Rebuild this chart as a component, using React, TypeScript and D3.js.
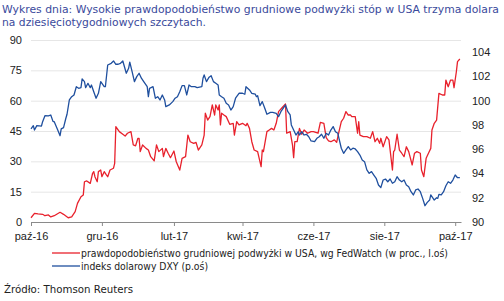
import React, { useEffect, useRef } from 'react';
import * as d3 from 'd3';

const W = 504;
const H = 301;

// prawdopodobieństwo grudniowej podwyżki (FedWatch, %), lewa oś
const fedWatch: [string, number][] = [
  ['2016-10-01', 2.1], ['2016-10-04', 4.3], ['2016-10-07', 4.0], ['2016-10-11', 3.8], ['2016-10-13', 3.1],
  ['2016-10-16', 3.5], ['2016-10-18', 2.5], ['2016-10-21', 3.1], ['2016-10-26', 4.8], ['2016-10-29', 3.8],
  ['2016-11-02', 2.1], ['2016-11-05', 2.5], ['2016-11-08', 5.1], ['2016-11-10', 9.2], ['2016-11-13', 12.5],
  ['2016-11-15', 13.4], ['2016-11-16', 19.9], ['2016-11-18', 20.3], ['2016-11-21', 19.1], ['2016-11-23', 24.1],
  ['2016-11-24', 24.9], ['2016-11-25', 22.4], ['2016-11-27', 19.9], ['2016-11-28', 24.9], ['2016-11-30', 25.7],
  ['2016-12-01', 22.4], ['2016-12-03', 24.9], ['2016-12-05', 23.2], ['2016-12-06', 22.4], ['2016-12-08', 25.7],
  ['2016-12-11', 26.6], ['2016-12-12', 29.0], ['2016-12-13', 47.1], ['2016-12-16', 44.7], ['2016-12-19', 43.4],
  ['2016-12-21', 42.5], ['2016-12-23', 43.9], ['2016-12-26', 44.7], ['2016-12-28', 38.1], ['2016-12-30', 37.7],
  ['2017-01-01', 41.4], ['2017-01-02', 41.4], ['2017-01-03', 34.8], ['2017-01-05', 38.1], ['2017-01-08', 36.4],
  ['2017-01-10', 35.6], ['2017-01-12', 32.3], ['2017-01-15', 30.2], ['2017-01-17', 38.1], ['2017-01-19', 34.8],
  ['2017-01-22', 36.4], ['2017-01-23', 32.3], ['2017-01-25', 36.4], ['2017-01-27', 34.0], ['2017-01-29', 31.8],
  ['2017-02-01', 35.1], ['2017-02-03', 29.8], ['2017-02-06', 25.7], ['2017-02-08', 31.5], ['2017-02-11', 32.3],
  ['2017-02-13', 43.0], ['2017-02-15', 39.7], ['2017-02-18', 38.9], ['2017-02-20', 39.4], ['2017-02-22', 35.6],
  ['2017-02-25', 38.1], ['2017-02-27', 43.0], ['2017-02-28', 53.8], ['2017-03-02', 50.4], ['2017-03-04', 52.1],
  ['2017-03-06', 57.9], ['2017-03-08', 52.9], ['2017-03-09', 57.9], ['2017-03-11', 55.4], ['2017-03-12', 57.9],
  ['2017-03-13', 48.0], ['2017-03-14', 53.8], ['2017-03-16', 52.9], ['2017-03-18', 52.1], ['2017-03-21', 48.3],
  ['2017-03-24', 48.8], ['2017-03-25', 43.0], ['2017-03-27', 49.6], ['2017-03-29', 48.0], ['2017-04-01', 48.8],
  ['2017-04-04', 47.6], ['2017-04-05', 48.8], ['2017-04-07', 46.3], ['2017-04-09', 39.7], ['2017-04-11', 35.6],
  ['2017-04-14', 34.8], ['2017-04-15', 32.3], ['2017-04-17', 27.4], ['2017-04-18', 35.6], ['2017-04-19', 34.8],
  ['2017-04-22', 44.7], ['2017-04-24', 45.5], ['2017-04-26', 46.3], ['2017-04-28', 45.5], ['2017-04-30', 48.8],
  ['2017-05-02', 54.6], ['2017-05-05', 56.5], ['2017-05-08', 58.4], ['2017-05-09', 43.9], ['2017-05-12', 44.7],
  ['2017-05-14', 38.1], ['2017-05-15', 31.8], ['2017-05-16', 39.7], ['2017-05-18', 39.7], ['2017-05-20', 46.3],
  ['2017-05-22', 43.4], ['2017-05-24', 45.5], ['2017-05-27', 43.9], ['2017-05-30', 44.7], ['2017-06-01', 44.7],
  ['2017-06-05', 43.9], ['2017-06-07', 49.3], ['2017-06-10', 48.8], ['2017-06-12', 41.7], ['2017-06-14', 40.1],
  ['2017-06-16', 39.7], ['2017-06-19', 40.6], ['2017-06-21', 39.4], ['2017-06-23', 44.7], ['2017-06-25', 49.6],
  ['2017-06-27', 51.3], ['2017-06-29', 54.6], ['2017-07-01', 52.9], ['2017-07-03', 52.9], ['2017-07-04', 52.1],
  ['2017-07-07', 52.1], ['2017-07-09', 43.9], ['2017-07-10', 49.6], ['2017-07-11', 43.0], ['2017-07-14', 42.2],
  ['2017-07-17', 42.2], ['2017-07-20', 41.4], ['2017-07-22', 44.7], ['2017-07-24', 39.7], ['2017-07-26', 41.4],
  ['2017-07-28', 38.9], ['2017-07-29', 41.4], ['2017-07-31', 37.2], ['2017-08-03', 42.2], ['2017-08-05', 40.6],
  ['2017-08-08', 25.7], ['2017-08-09', 34.8], ['2017-08-10', 35.6], ['2017-08-12', 43.4], ['2017-08-14', 35.6],
  ['2017-08-16', 34.0], ['2017-08-18', 32.3], ['2017-08-20', 37.2], ['2017-08-22', 34.8], ['2017-08-25', 28.2],
  ['2017-08-27', 34.0], ['2017-08-29', 34.8], ['2017-09-01', 34.0], ['2017-09-02', 25.7], ['2017-09-04', 22.4],
  ['2017-09-06', 31.5], ['2017-09-08', 34.0], ['2017-09-10', 36.4], ['2017-09-11', 45.5], ['2017-09-13', 48.8],
  ['2017-09-15', 50.4], ['2017-09-17', 63.6], ['2017-09-20', 62.8], ['2017-09-22', 62.8], ['2017-09-23', 70.2],
  ['2017-09-25', 66.9], ['2017-09-27', 70.2], ['2017-09-29', 70.2], ['2017-09-30', 66.4], ['2017-10-02', 74.3],
  ['2017-10-03', 79.3], ['2017-10-05', 80.6],
];

// indeks dolarowy DXY, prawa oś
const dxy: [string, number][] = [
  ['2016-10-01', 97.67], ['2016-10-03', 97.94], ['2016-10-04', 97.58], ['2016-10-06', 97.94], ['2016-10-10', 97.91],
  ['2016-10-11', 98.27], ['2016-10-13', 98.76], ['2016-10-16', 98.74], ['2016-10-18', 98.82], ['2016-10-20', 98.27],
  ['2016-10-21', 98.27], ['2016-10-24', 97.58], ['2016-10-26', 97.11], ['2016-10-27', 97.67], ['2016-10-29', 97.78],
  ['2016-10-31', 98.55], ['2016-11-01', 98.88], ['2016-11-03', 100.06], ['2016-11-05', 100.33], ['2016-11-07', 100.47],
  ['2016-11-09', 101.15], ['2016-11-11', 101.02], ['2016-11-13', 101.07], ['2016-11-14', 101.79], ['2016-11-16', 101.57],
  ['2016-11-17', 101.07], ['2016-11-19', 101.43], ['2016-11-21', 101.07], ['2016-11-22', 101.29], ['2016-11-24', 100.74],
  ['2016-11-26', 100.2], ['2016-11-28', 100.61], ['2016-11-30', 101.57], ['2016-12-03', 101.15], ['2016-12-04', 101.15],
  ['2016-12-06', 102.94], ['2016-12-09', 103.08], ['2016-12-11', 103.27], ['2016-12-13', 103.0], ['2016-12-15', 103.0],
  ['2016-12-17', 103.08], ['2016-12-19', 103.27], ['2016-12-22', 102.26], ['2016-12-24', 102.67], ['2016-12-25', 103.17],
  ['2016-12-27', 102.39], ['2016-12-29', 101.57], ['2016-12-31', 101.98], ['2017-01-02', 102.26], ['2017-01-04', 101.85],
  ['2017-01-06', 101.57], ['2017-01-09', 101.15], ['2017-01-10', 100.33], ['2017-01-11', 101.02], ['2017-01-14', 101.15],
  ['2017-01-16', 100.2], ['2017-01-18', 100.33], ['2017-01-20', 100.06], ['2017-01-22', 100.47], ['2017-01-24', 100.06],
  ['2017-01-25', 99.51], ['2017-01-28', 99.65], ['2017-01-31', 99.92], ['2017-02-02', 100.2], ['2017-02-04', 100.33],
  ['2017-02-06', 100.74], ['2017-02-08', 101.24], ['2017-02-10', 101.24], ['2017-02-12', 100.47], ['2017-02-14', 101.29],
  ['2017-02-16', 101.15], ['2017-02-19', 101.15], ['2017-02-21', 101.07], ['2017-02-25', 101.15], ['2017-02-26', 101.85],
  ['2017-02-27', 102.12], ['2017-03-01', 101.57], ['2017-03-03', 101.9], ['2017-03-05', 102.06], ['2017-03-07', 101.57],
  ['2017-03-09', 101.43], ['2017-03-11', 101.29], ['2017-03-12', 100.47], ['2017-03-14', 100.33], ['2017-03-16', 100.2],
  ['2017-03-18', 99.79], ['2017-03-20', 99.65], ['2017-03-22', 99.23], ['2017-03-24', 99.51], ['2017-03-26', 100.2],
  ['2017-03-29', 100.61], ['2017-04-01', 100.61], ['2017-04-03', 100.53], ['2017-04-04', 101.15], ['2017-04-07', 100.88],
  ['2017-04-09', 100.61], ['2017-04-12', 100.53], ['2017-04-13', 100.33], ['2017-04-14', 100.41], ['2017-04-16', 99.59],
  ['2017-04-18', 99.92], ['2017-04-20', 99.42], ['2017-04-22', 98.88], ['2017-04-25', 99.04], ['2017-04-27', 99.04],
  ['2017-04-30', 98.96], ['2017-05-02', 98.68], ['2017-05-04', 99.09], ['2017-05-07', 99.51], ['2017-05-08', 99.65],
  ['2017-05-10', 99.09], ['2017-05-12', 98.82], ['2017-05-13', 98.0], ['2017-05-15', 97.58], ['2017-05-17', 97.17],
  ['2017-05-19', 97.44], ['2017-05-20', 97.17], ['2017-05-22', 97.44], ['2017-05-24', 97.17], ['2017-05-26', 97.23],
  ['2017-05-28', 97.03], ['2017-05-30', 96.68], ['2017-06-02', 96.62], ['2017-06-04', 96.9], ['2017-06-06', 97.03],
  ['2017-06-08', 97.23], ['2017-06-10', 96.9], ['2017-06-12', 97.31], ['2017-06-14', 97.17], ['2017-06-16', 97.58],
  ['2017-06-18', 97.86], ['2017-06-20', 97.44], ['2017-06-22', 97.31], ['2017-06-23', 96.9], ['2017-06-25', 96.08],
  ['2017-06-27', 95.66], ['2017-06-29', 95.94], ['2017-07-01', 96.21], ['2017-07-03', 95.94], ['2017-07-05', 96.08],
  ['2017-07-07', 96.02], ['2017-07-09', 95.8], ['2017-07-11', 95.52], ['2017-07-13', 95.11], ['2017-07-15', 94.97],
  ['2017-07-17', 94.29], ['2017-07-19', 94.01], ['2017-07-21', 94.15], ['2017-07-23', 93.87], ['2017-07-25', 93.6],
  ['2017-07-27', 93.05], ['2017-07-29', 92.83], ['2017-07-31', 93.46], ['2017-08-02', 93.54], ['2017-08-04', 93.32],
  ['2017-08-06', 93.54], ['2017-08-08', 93.19], ['2017-08-10', 93.32], ['2017-08-12', 93.73], ['2017-08-14', 93.46],
  ['2017-08-16', 93.32], ['2017-08-18', 93.46], ['2017-08-20', 93.05], ['2017-08-22', 92.91], ['2017-08-24', 92.5],
  ['2017-08-26', 92.23], ['2017-08-28', 92.64], ['2017-08-30', 92.72], ['2017-09-01', 92.5], ['2017-09-03', 91.95],
  ['2017-09-05', 91.34], ['2017-09-07', 91.62], ['2017-09-09', 91.81], ['2017-09-10', 92.23], ['2017-09-13', 91.81],
  ['2017-09-15', 92.0], ['2017-09-16', 91.95], ['2017-09-17', 92.28], ['2017-09-19', 92.23], ['2017-09-21', 92.5],
  ['2017-09-23', 92.99], ['2017-09-25', 93.32], ['2017-09-27', 93.19], ['2017-09-29', 93.46], ['2017-10-01', 93.87],
  ['2017-10-03', 93.65], ['2017-10-05', 93.65],
];

const monthTicks = ['2016-10-01', '2016-12-01', '2017-02-01', '2017-04-01', '2017-06-01', '2017-08-01', '2017-10-01'];
const monthNames = ['sty', 'lut', 'mar', 'kwi', 'maj', 'cze', 'lip', 'sie', 'wrz', 'paź', 'lis', 'gru'];
const leftTicks = [0, 15, 30, 45, 60, 75, 90];
const rightTicks = [90, 92, 94, 96, 98, 100, 102, 104];

const titleLines = [
  'Wykres dnia: Wysokie prawdopodobieństwo grudniowe podwyżki stóp w USA trzyma dolara',
  'na dziesięciotygodniowych szczytach.',
];
const legendItems = [
  { label: 'prawdopodobieństwo grudniowej podwyżki w USA, wg FedWatch (w proc., l.oś)', color: '#e8212c', len: 367 },
  { label: 'indeks dolarowy DXY (p.oś)', color: '#1f4f9e', len: 127 },
];
const source = 'Źródło: Thomson Reuters';

const parse = d3.timeParse('%Y-%m-%d');

function App() {
  const ref = useRef<SVGSVGElement | null>(null);

  useEffect(() => {
    const svg = d3.select(ref.current);
    svg.selectAll('*').remove();

    const left = 31, right = 461, top = 40, bottom = 222;
    const font = '"Liberation Sans", Arial, sans-serif';
    const roundFont = '"DejaVu Sans", Verdana, sans-serif';

    const x = d3.scaleTime()
      .domain([parse('2016-10-01')!, parse('2017-10-06')!])
      .range([left, right]);
    const yL = d3.scaleLinear().domain([0, 90]).range([bottom, top]);
    const yR = d3.scaleLinear().domain([90, 105]).range([bottom, top]);

    // title, two lines
    svg.selectAll('.title')
      .data(titleLines)
      .enter()
      .append('text')
      .attr('class', 'title')
      .attr('x', 2)
      .attr('y', (d, i) => 12.5 + i * 13)
      .attr('font-family', roundFont)
      .attr('font-size', 10.5)
      .attr('fill', '#3a4a9c')
      .attr('textLength', (d, i) => (i === 0 ? 497 : 204))
      .attr('lengthAdjust', 'spacingAndGlyphs')
      .text(d => d);

    // left axis + gridlines
    const gl = svg.append('g')
      .attr('transform', `translate(${left},0)`)
      .call(d3.axisLeft(yL).tickValues(leftTicks).tickSize(-(right - left)).tickPadding(9));
    gl.select('.domain').remove();
    gl.selectAll('line').attr('stroke', '#e6e6e6');
    gl.selectAll('text').attr('font-family', font).attr('font-size', 11).attr('fill', '#222');

    // right axis
    const gr = svg.append('g')
      .attr('transform', `translate(${right},0)`)
      .call(d3.axisRight(yR).tickValues(rightTicks).tickSize(0).tickPadding(11).tickFormat(d3.format('d')));
    gr.select('.domain').remove();
    gr.selectAll('text').attr('font-family', font).attr('font-size', 11).attr('fill', '#222');

    // bottom axis
    const gb = svg.append('g')
      .attr('transform', `translate(0,${bottom})`)
      .call(d3.axisBottom(x)
        .tickValues(monthTicks.map(s => parse(s)!))
        .tickSizeInner(4)
        .tickSizeOuter(0)
        .tickPadding(6)
        .tickFormat(d => {
          const dt = d as Date;
          return monthNames[dt.getMonth()] + '-' + d3.timeFormat('%y')(dt);
        }));
    gb.select('.domain').attr('stroke', '#8a8a8a');
    gb.selectAll('line').attr('stroke', '#8a8a8a');
    gb.selectAll('text').attr('font-family', font).attr('font-size', 11).attr('fill', '#222');

    // series
    const redLine = d3.line<[string, number]>()
      .x(d => x(parse(d[0])!))
      .y(d => yL(d[1]));
    const blueLine = d3.line<[string, number]>()
      .x(d => x(parse(d[0])!))
      .y(d => yR(d[1]));

    svg.append('path')
      .datum(fedWatch)
      .attr('d', redLine)
      .attr('fill', 'none')
      .attr('stroke', legendItems[0].color)
      .attr('stroke-width', 1.3)
      .attr('stroke-linejoin', 'round');

    svg.append('path')
      .datum(dxy)
      .attr('d', blueLine)
      .attr('fill', 'none')
      .attr('stroke', legendItems[1].color)
      .attr('stroke-width', 1.3)
      .attr('stroke-linejoin', 'round');

    // legend
    const lg = svg.selectAll('.legend')
      .data(legendItems)
      .enter()
      .append('g')
      .attr('class', 'legend')
      .attr('transform', (d, i) => `translate(52,${253 + i * 13})`);
    lg.append('line')
      .attr('x1', 0).attr('x2', 28)
      .attr('stroke', d => d.color)
      .attr('stroke-width', 1.3);
    lg.append('text')
      .attr('x', 29)
      .attr('y', 3.6)
      .attr('font-family', roundFont)
      .attr('font-size', 10)
      .attr('fill', '#222')
      .attr('textLength', d => d.len)
      .attr('lengthAdjust', 'spacingAndGlyphs')
      .text(d => d.label);

    svg.append('text')
      .attr('x', 4)
      .attr('y', 293)
      .attr('font-family', roundFont)
      .attr('font-size', 11)
      .attr('fill', '#222')
      .attr('textLength', 129)
      .attr('lengthAdjust', 'spacingAndGlyphs')
      .text(source);
  }, []);

  return (
    <svg
      ref={ref}
      width={W}
      height={H}
      viewBox={`0 0 ${W} ${H}`}
      style={{ position: 'absolute', left: 0, top: 0, background: '#fff' }}
    />
  );
}

export default App;
